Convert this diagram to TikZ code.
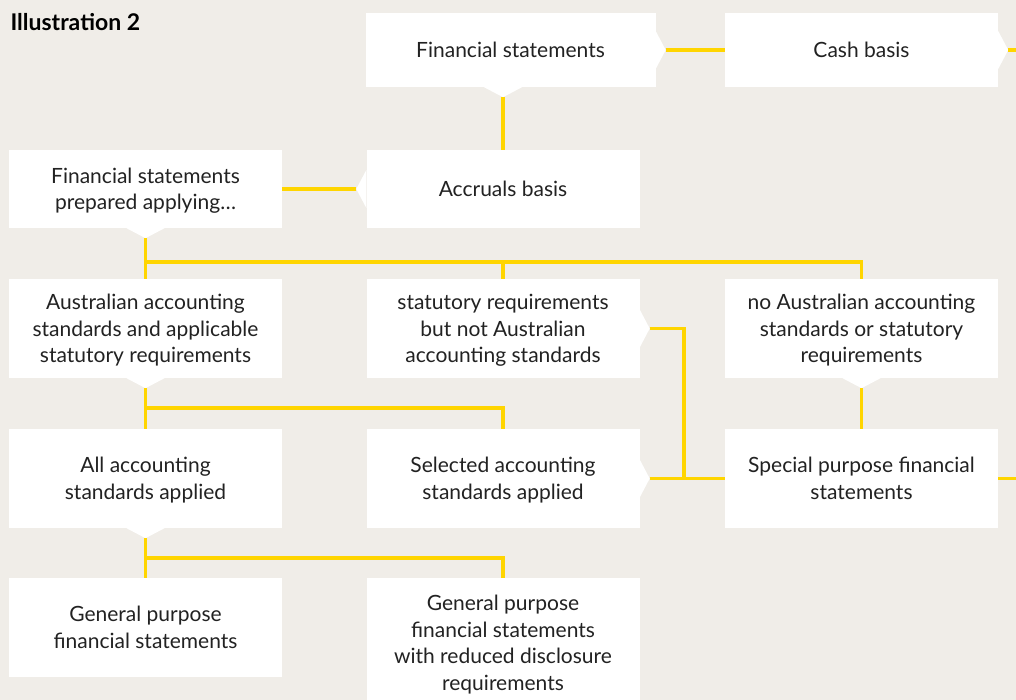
\documentclass[tikz,border=0pt]{standalone}
\usepackage{fontspec}
\setmainfont{Lato}
\usetikzlibrary{calc}

\definecolor{pagecolor}{HTML}{F0EDE8}
\definecolor{linecolor}{HTML}{FFD500}
\definecolor{textcolor}{HTML}{222222}

\tikzset{
  box/.style={fill=white, inner sep=0pt, align=center, text=textcolor, text depth=0pt,
    minimum width=273pt, font=\fontsize{21}{26.5}\selectfont},
  link/.style={draw=linecolor, line width=3.5pt},
  notch/.style={fill=white},
}

% small white pointers on the boxes
\newcommand{\notchS}[2]{\fill[notch] (#1) ++(-19,0) -- ++(19,10) coordinate (#2) -- ++(19,-10) -- cycle;}
\newcommand{\notchE}[2]{\fill[notch] (#1) ++(0,-19) -- ++(10,19) coordinate (#2) -- ++(-10,19) -- cycle;}
\newcommand{\notchW}[2]{\fill[notch] (#1) ++(0,-19) -- ++(-10,19) coordinate (#2) -- ++(10,19) -- cycle;}

\begin{document}
\begin{tikzpicture}[x=1pt, y=-1pt]
\fill[pagecolor] (0,0) rectangle (1016,700);
\useasboundingbox (0,0) rectangle (1016,700);

\node[anchor=west, font=\bfseries\fontsize{23}{26}\selectfont] (title) at (7,22) {Illustration 2};

% boxes
\node[box, minimum width=290pt, minimum height=74pt] (fs) at (510.5,50) {Financial statements};
\node[box, minimum height=74pt] (cash) at (861.5,50) {Cash basis};
\node[box, minimum height=78pt] (prep) at (145.5,189) {Financial statements\\prepared applying\dots};
\node[box, minimum height=78pt] (acc) at (503,189) {Accruals basis};
\node[box, minimum height=99pt] (ausstd) at (145.5,328.5) {Australian accounting\\standards and applicable\\statutory requirements};
\node[box, minimum height=99pt] (statreq) at (503,328.5) {statutory requirements\\but not Australian\\accounting standards};
\node[box, minimum height=99pt] (noaus) at (861.5,328.5) {no Australian accounting\\standards or statutory\\requirements};
\node[box, minimum height=99pt] (allstd) at (145.5,478.5) {All accounting\\standards applied};
\node[box, minimum height=99pt] (selstd) at (503,478.5) {Selected accounting\\standards applied};
\node[box, minimum height=99pt] (special) at (861.5,478.5) {Special purpose financial\\statements};
\node[box, minimum height=99pt] (gp) at (145.5,627.5) {General purpose\\financial statements};
\node[box, minimum height=130pt] (rdr) at (503,643) {General purpose\\financial statements\\with reduced disclosure\\requirements};

% pointers
\notchE{fs.east}{fs-rtip}
\notchS{fs.south -| acc.north}{fs-btip}
\notchE{cash.east}{cash-rtip}
\notchW{acc.west}{acc-ltip}
\notchS{prep.south}{prep-btip}
\notchS{ausstd.south}{ausstd-btip}
\notchE{statreq.east}{statreq-rtip}
\notchS{noaus.south}{noaus-btip}
\notchS{allstd.south}{allstd-btip}
\notchE{selstd.east}{selstd-rtip}

\coordinate (edgeA) at (1016,50);
\coordinate (edgeB) at (1016,478.5);
\coordinate (splitA) at (145.5,262);
\coordinate (splitB) at (145.5,408);
\coordinate (splitC) at (145.5,558);
\coordinate (joinC) at (684,328.5);

% connectors
\draw[link] (fs-rtip) -- (cash.west);
\draw[link] (cash-rtip) -- (edgeA);
\draw[link] (fs-btip) -- (acc.north);
\draw[link] (acc-ltip) -- (prep.east);
\draw[link] (prep-btip) -- (ausstd.north);
\draw[link] (splitA) -| (noaus.north);
\draw[link] (splitA -| statreq.north) -- (statreq.north);
\draw[link] (ausstd-btip) -- (allstd.north);
\draw[link] (splitB) -| (selstd.north);
\draw[link] (statreq-rtip) -- (joinC) -- (joinC |- selstd-rtip);
\draw[link] (selstd-rtip) -- (special.west);
\draw[link] (noaus-btip) -- (special.north);
\draw[link] (special.east) -- (edgeB);
\draw[link] (allstd-btip) -- (gp.north);
\draw[link] (splitC) -| (rdr.north);
\end{tikzpicture}
\end{document}
